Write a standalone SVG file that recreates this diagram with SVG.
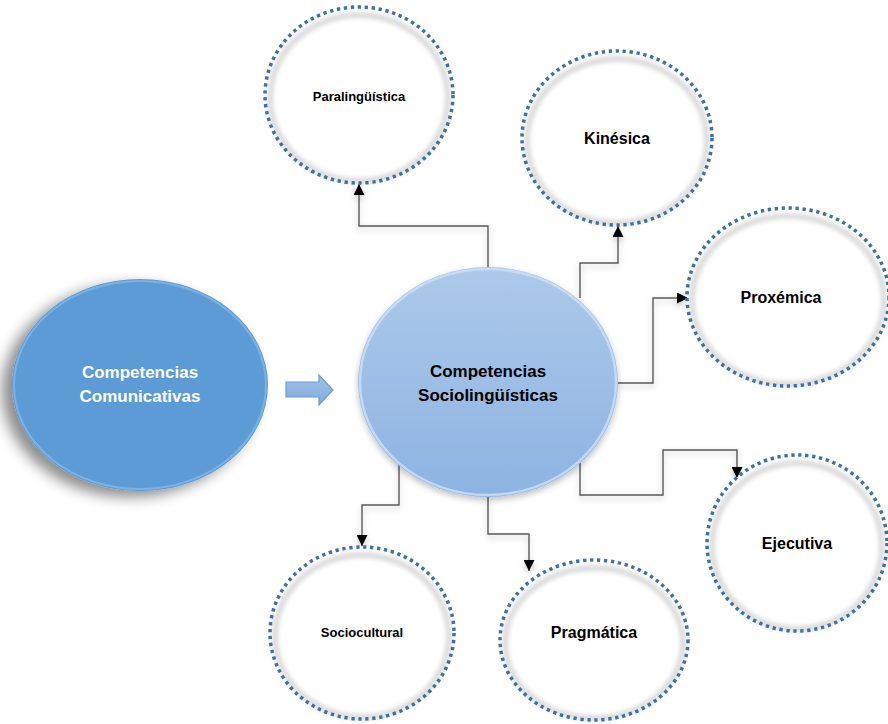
<svg xmlns="http://www.w3.org/2000/svg" width="888" height="724" viewBox="0 0 888 724">
<defs>
<linearGradient id="gC" x1="0" y1="0" x2="0" y2="1">
<stop offset="0" stop-color="#adc9ea"/>
<stop offset="1" stop-color="#8db3e2"/>
</linearGradient>
<linearGradient id="gA" x1="0" y1="0" x2="0" y2="1">
<stop offset="0" stop-color="#a4c3e8"/>
<stop offset="1" stop-color="#7ea9dc"/>
</linearGradient>
<filter id="shL" x="-30%" y="-30%" width="160%" height="160%">
<feDropShadow dx="-10" dy="6" stdDeviation="7" flood-color="#000" flood-opacity="0.45"/>
</filter>
<filter id="shS" x="-20%" y="-20%" width="140%" height="140%">
<feDropShadow dx="0" dy="3" stdDeviation="3" flood-color="#000" flood-opacity="0.25"/>
</filter>
<filter id="inner" x="-10%" y="-10%" width="120%" height="120%">
<feGaussianBlur stdDeviation="2.5"/>
</filter>
<marker id="ah" viewBox="0 0 10 10" refX="10" refY="5" markerWidth="12" markerHeight="11" markerUnits="userSpaceOnUse" orient="auto">
<path d="M0,0 L10,5 L0,10 z" fill="#000"/>
</marker>
</defs>
<style>
.dot{fill:none;stroke:#3f70a3;stroke-width:3.5;stroke-dasharray:3.3 3.7;}
.bg{fill:#fff;}
.glow{fill:none;stroke:#666;stroke-width:4;opacity:0.35;filter:url(#inner);}
.con{fill:none;stroke:#595959;stroke-width:1.4;marker-end:url(#ah);}
.t{font-family:"Liberation Sans",Arial,sans-serif;font-weight:bold;text-anchor:middle;fill:#000;}
.tw{font-family:"Liberation Sans",Arial,sans-serif;font-weight:bold;text-anchor:middle;fill:#fff;font-size:17px;}
</style>
<rect width="888" height="724" fill="#fff"/>

<g id="connectors" filter="url(#shS)">
<path class="con" d="M488,267 V226 H359 V184"/>
<path class="con" d="M580,298 V263 H618 V226"/>
<path class="con" d="M618,383 H653 V298 H688"/>
<path class="con" d="M580,463 V495 H663 V450 H737 V478"/>
<path class="con" d="M399,464 V505 H362 V546"/>
<path class="con" d="M488,497 V534 H529 V571"/>
</g>

<g id="competencias-comunicativas">
<ellipse cx="140" cy="385" rx="128" ry="106" fill="#5b9bd5" filter="url(#shL)"/>
<ellipse cx="140" cy="385" rx="126" ry="104" fill="none" stroke="#8dbbe8" stroke-width="2" opacity="0.7"/>
<text class="tw" x="140" y="378">Competencias</text>
<text class="tw" x="140" y="402">Comunicativas</text>
</g>

<g id="block-arrow">
<path d="M286,382 H319 V375 L333,390 L319,405 V397 H286 z" fill="url(#gA)" stroke="#6a9bd1" stroke-width="1.2"/>
</g>

<g id="competencias-sociolinguisticas">
<ellipse cx="488" cy="382" rx="130" ry="115" fill="url(#gC)" filter="url(#shS)"/>
<ellipse cx="488" cy="382" rx="128" ry="113" fill="none" stroke="#cfe0f4" stroke-width="2.5" opacity="0.8"/>
<text class="t" x="488" y="377" font-size="17">Competencias</text>
<text class="t" x="488" y="401" font-size="17">Sociolingüísticas</text>
</g>

<g id="paralinguistica">
<ellipse class="bg" cx="359" cy="95" rx="94" ry="88"/>
<ellipse class="glow" cx="359" cy="98" rx="89" ry="83"/>
<ellipse class="dot" cx="359" cy="95" rx="94" ry="88"/>
<text class="t" x="359" y="101" font-size="13">Paralingüística</text>
</g>

<g id="kinesica">
<ellipse class="bg" cx="617" cy="138" rx="95" ry="87"/>
<ellipse class="glow" cx="617" cy="141" rx="90" ry="82"/>
<ellipse class="dot" cx="617" cy="138" rx="95" ry="87"/>
<text class="t" x="617" y="144" font-size="16">Kinésica</text>
</g>

<g id="proxemica">
<ellipse class="bg" cx="788" cy="297" rx="101" ry="89"/>
<ellipse class="glow" cx="788" cy="300" rx="96" ry="84"/>
<ellipse class="dot" cx="788" cy="297" rx="101" ry="89"/>
<text class="t" x="781" y="303" font-size="16">Proxémica</text>
</g>

<g id="ejecutiva">
<ellipse class="bg" cx="797" cy="543" rx="90" ry="88"/>
<ellipse class="glow" cx="797" cy="546" rx="85" ry="83"/>
<ellipse class="dot" cx="797" cy="543" rx="90" ry="88"/>
<text class="t" x="797" y="549" font-size="16">Ejecutiva</text>
</g>

<g id="sociocultural">
<ellipse class="bg" cx="362" cy="633" rx="92" ry="86"/>
<ellipse class="glow" cx="362" cy="636" rx="87" ry="81"/>
<ellipse class="dot" cx="362" cy="633" rx="92" ry="86"/>
<text class="t" x="362" y="637" font-size="13">Sociocultural</text>
</g>

<g id="pragmatica">
<ellipse class="bg" cx="594" cy="640" rx="94" ry="80"/>
<ellipse class="glow" cx="594" cy="643" rx="89" ry="75"/>
<ellipse class="dot" cx="594" cy="640" rx="94" ry="80"/>
<text class="t" x="594" y="638" font-size="16">Pragmática</text>
</g>
</svg>
